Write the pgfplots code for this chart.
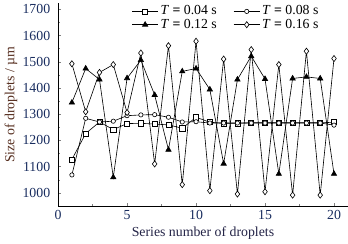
\documentclass[border=0pt]{standalone}
\usepackage{pgfplots}
\pgfplotsset{compat=1.18}
\usepackage{fontspec}
\setmainfont{Liberation Serif}
\definecolor{ticknavy}{RGB}{25,45,95}
\definecolor{labbrown}{RGB}{85,45,30}
\definecolor{labnavy}{RGB}{35,35,70}
\begin{document}
\fontsize{13.5}{15}\selectfont
\begin{tikzpicture}
\begin{axis}[
  scale only axis,
  width=282bp, height=197bp,
  xmin=0, xmax=21, ymin=950, ymax=1722,
  axis lines*=left,
  tick align=inside,
  xtick={0,5,10,15,20},
  ytick={1000,1100,1200,1300,1400,1500,1600,1700},
  minor x tick num=1, minor y tick num=1,
  major tick length=3bp, minor tick length=2bp,
  /pgf/number format/assume math mode=true,
  /pgf/number format/set thousands separator={},
  ticklabel style={font=\fontsize{13.5}{15}\selectfont, text=ticknavy},
  yticklabel style={xshift=-3bp},
  xlabel={Series number of droplets},
  ylabel={Size of droplets / \textmu m},
  xlabel style={font=\fontsize{13.5}{15}\selectfont, text=labnavy, yshift=3bp},
  ylabel style={font=\fontsize{13.5}{15}\selectfont, text=labbrown, yshift=-4bp},
  legend columns=2,
  legend style={draw=none, fill=none, at={(0.58,1.01)}, anchor=north,
    font=\fontsize{13.5}{15}\selectfont, row sep=-2bp,
    /tikz/every even column/.append style={column sep=14bp}},
  legend cell align=left,
  every axis plot/.append style={black, line width=0.6pt},
  legend image code/.code={
    \draw[mark repeat=2,mark phase=2] plot coordinates {(0cm,0cm) (0.45cm,0cm) (0.9cm,0cm)};
  },
]
\addplot[mark=square*, mark options={fill=white, scale=1.25}] coordinates {
(1,1127) (2,1226) (3,1270) (4,1241) (5,1264) (6,1265) (7,1262) (8,1259) (9,1246) (10,1288)
(11,1269) (12,1265) (13,1265) (14,1267) (15,1267) (16,1267) (17,1267) (18,1267) (19,1267) (20,1269)};
\addlegendentry{\textit{T} \textbf{=} 0.04 s}
\addplot[mark=*, mark options={fill=white, scale=1.05}] coordinates {
(1,1068) (2,1284) (3,1270) (4,1273) (5,1294) (6,1297) (7,1298) (8,1288) (9,1270) (10,1271)
(11,1266) (12,1266) (13,1266) (14,1266) (15,1266) (16,1266) (17,1266) (18,1266) (19,1266) (20,1258)};
\addlegendentry{\textit{T} \textbf{=} 0.08 s}
\addplot[mark=triangle*, mark options={fill=black, scale=1.5}] coordinates {
(1,1344) (2,1474) (3,1432) (4,1059) (5,1437) (6,1506) (7,1373) (8,1164) (9,1463) (10,1474)
(11,1394) (12,1111) (13,1432) (14,1521) (15,1434) (16,1072) (17,1436) (18,1442) (19,1436) (20,1072)};
\addlegendentry{\textit{T} \textbf{=} 0.12 s}
\addplot[mark=diamond*, mark options={fill=white, scale=1.5}] coordinates {
(1,1492) (2,1309) (3,1459) (4,1489) (5,1306) (6,1533) (7,1110) (8,1561) (9,1031) (10,1578)
(11,1008) (12,1510) (13,995) (14,1546) (15,1004) (16,1489) (17,991) (18,1540) (19,991) (20,1512)};
\addlegendentry{\textit{T} \textbf{=} 0.16 s}
\end{axis}
\end{tikzpicture}
\end{document}
